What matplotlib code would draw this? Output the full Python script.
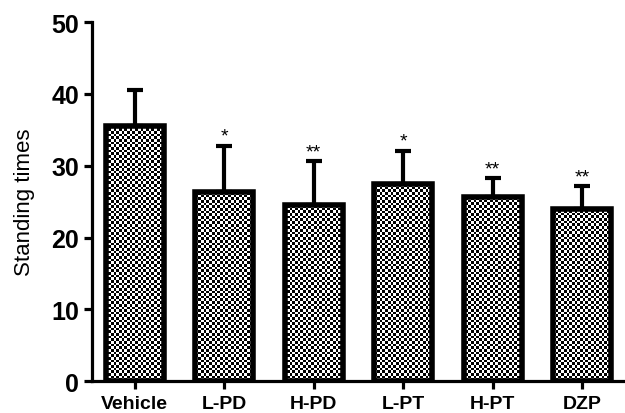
import numpy as np
import matplotlib
matplotlib.use('Agg')
import matplotlib.pyplot as plt

plt.rcParams['font.family'] = ['Liberation Sans', 'DejaVu Sans']

# ---------- data ----------
groups = ['Vehicle', 'L-PD', 'H-PD', 'L-PT', 'H-PT', 'DZP']
means = [35.5, 26.3, 24.6, 27.4, 25.7, 24.0]
sem = [5.0, 6.5, 6.1, 4.7, 2.6, 3.2]
stars = ['', '*', '**', '*', '**', '**']

fig = plt.figure(figsize=(6.25, 4.14), dpi=100)
ax = fig.add_axes([0.147, 0.077, 0.853, 0.867])

x = np.arange(len(groups))
bars = ax.bar(x, means, width=0.65, facecolor='none', edgecolor='black',
              linewidth=4, zorder=3)

# checkerboard fill, clipped to each bar
xlim = (-0.48, 5.48)
ylim = (0, 50)
ax.set_xlim(*xlim)
ax.set_ylim(*ylim)
nx, ny = 200, 135
ii, jj = np.meshgrid(np.arange(nx), np.arange(ny))
checker = ((ii + jj) % 2).astype(float)
for b in bars:
    im = ax.imshow(checker, cmap='gray', extent=[xlim[0], xlim[1], ylim[0], ylim[1]],
                   aspect='auto', interpolation='nearest', zorder=2, vmin=0, vmax=1)
    im.set_clip_path(b)

ax.errorbar(x, means, yerr=[np.zeros(len(sem)), sem], fmt='none', ecolor='black',
            elinewidth=3, capsize=6, capthick=3, zorder=1)

for xi, m, s, st in zip(x, means, sem, stars):
    if st:
        ax.text(xi, m + s + 0.1, st, ha='center', va='bottom', fontsize=14)

ax.spines['top'].set_visible(False)
ax.spines['right'].set_visible(False)
ax.spines['left'].set_linewidth(2.3)
ax.spines['bottom'].set_linewidth(2.3)

ax.set_yticks([0, 10, 20, 30, 40, 50])
ax.set_xticks(x)
ax.set_xticklabels(groups, fontsize=14, fontweight='bold')
ax.tick_params(axis='y', length=6, width=2.3, labelsize=18, pad=3)
ax.tick_params(axis='x', length=6, width=2.3, pad=4)
for lab in ax.get_yticklabels():
    lab.set_fontweight('bold')

ax.set_ylabel('Standing times', fontsize=16, labelpad=12)

fig.savefig('out.png', dpi=100)
